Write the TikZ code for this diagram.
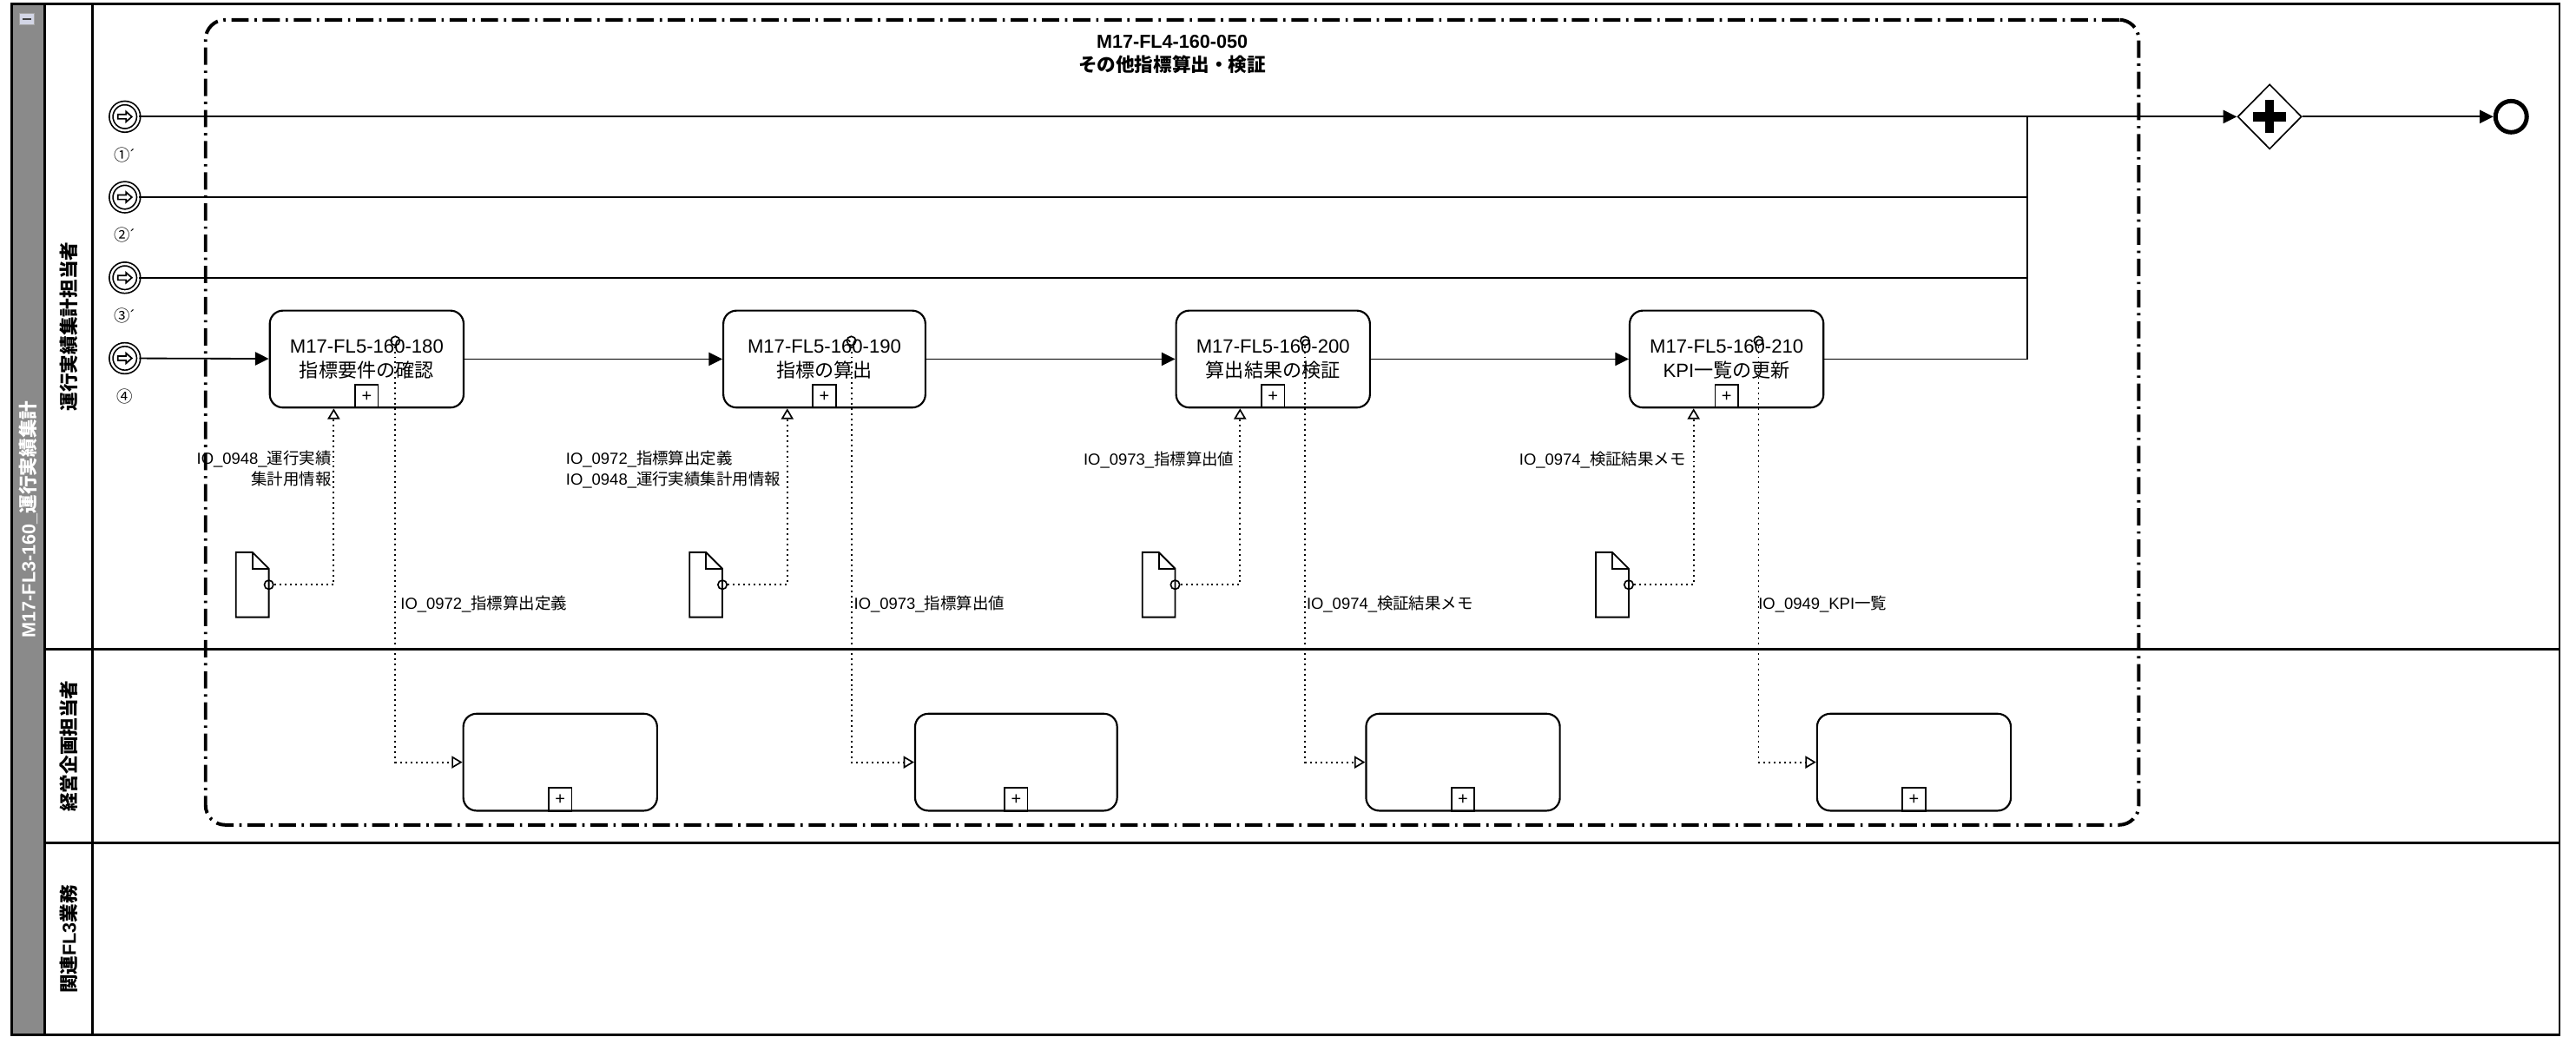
\documentclass[tikz,border=0pt]{standalone}
\usepackage{fontspec}
\setmainfont{Liberation Sans}
\newfontfamily\jp{Noto Sans CJK JP}
\usetikzlibrary{shapes.geometric,arrows.meta,positioning}
\definecolor{poolgray}{HTML}{8A8A8A}
\definecolor{iconfill}{HTML}{D3D6E6}
\newcommand{\taskfont}{\fontsize{6.65}{8.4}\selectfont}
\newcommand{\iofont}{\fontsize{5.55}{7.2}\selectfont}
\newcommand{\headfont}{\fontsize{6.5}{8.1}\selectfont\bfseries}
\tikzstyle{poolline} = [line width=0.8pt]
\tikzstyle{task} = [rectangle, draw, line width=0.65pt, rounded corners=0.16cm,
    minimum width=2.36cm, minimum height=1.18cm, align=center, font=\taskfont, inner sep=0pt]
\tikzstyle{marker} = [rectangle, draw, line width=0.5pt, minimum size=0.28cm, inner sep=0pt,
    anchor=south, font=\fontsize{6}{6}\selectfont]
\tikzstyle{startev} = [circle, draw, line width=0.51pt, double, double distance=0.74pt,
    minimum size=0.334cm, inner sep=0pt, path picture={
      \draw[line width=0.5pt] ([shift={(-0.085cm,0.027cm)}]path picture bounding box.center)
        -- ++(0.1cm,0) -- ++(0,0.035cm) -- ++(0.07cm,-0.062cm) -- ++(-0.07cm,-0.062cm)
        -- ++(0,0.035cm) -- ++(-0.1cm,0) -- cycle;}]
\tikzstyle{endev} = [circle, draw, line width=1.5pt, minimum size=0.38cm, inner sep=0pt]
\tikzstyle{gateway} = [diamond, draw, line width=0.5pt, minimum width=0.78cm, minimum height=0.79cm,
    inner sep=0pt, path picture={
      \draw[line width=0.11cm] ([xshift=-0.2cm]path picture bounding box.center) -- ([xshift=0.2cm]path picture bounding box.center);
      \draw[line width=0.11cm] ([yshift=-0.2cm]path picture bounding box.center) -- ([yshift=0.2cm]path picture bounding box.center);}]
\tikzstyle{docnode} = [rectangle, minimum width=0.4cm, minimum height=0.79cm, inner sep=0pt, outer sep=0pt]
\tikzstyle{docline} = [line width=0.55pt, line join=miter]
\tikzstyle{assoccirc} = [circle, draw, line width=0.5pt, minimum size=0.11cm, inner sep=0pt]
\tikzstyle{assocline} = [line width=0.55pt, dash pattern=on 0.6pt off 1.2pt]
\tikzstyle{assocarrow} = [assocline, -{Triangle[open, length=0.13cm, width=0.15cm, line width=0.5pt]}]
\tikzstyle{flow} = [line width=0.55pt]
\tikzstyle{seqarrow} = [flow, -{Triangle[length=0.166cm, width=0.16cm]}]
\tikzstyle{grp} = [rectangle, draw, line width=1.2pt, rounded corners=0.24cm,
    dash pattern=on 6pt off 2pt on 0.8pt off 2pt, minimum width=23.54cm, minimum height=9.8cm, inner sep=0pt]
\tikzstyle{grptitle} = [font=\headfont, align=center, inner sep=0pt]
\tikzstyle{lanehead} = [rotate=90, font=\headfont, inner sep=0pt]
\tikzstyle{poolhead} = [rotate=90, font=\headfont, text=white, inner sep=0pt]
\tikzstyle{collapsebox} = [rectangle, fill=iconfill, draw=gray!70, line width=0.3pt,
    minimum width=0.17cm, minimum height=0.14cm, inner sep=0pt, path picture={
      \draw[line width=0.6pt, black!75] ([xshift=-0.055cm]path picture bounding box.center) -- ([xshift=0.055cm]path picture bounding box.center);}]
\tikzstyle{evlabel} = [font=\iofont, inner sep=0pt]
\tikzstyle{iolabel} = [font=\iofont, inner sep=0pt]

\begin{document}
\begin{tikzpicture}[x=0.02cm, y=-0.02cm]
\useasboundingbox (0,0) rectangle (1568,631);

% pool and lanes
\fill[poolgray] (7,2.4) rectangle (27.3,629.8);
\draw[poolline] (7,2.4) rectangle (1558,629.8);
\draw[poolline] (27.3,2.4) -- (27.3,629.8);
\draw[poolline] (56.4,2.4) -- (56.4,629.8);
\draw[poolline] (27.3,395) -- (1558,395);
\draw[poolline] (27.3,513) -- (1558,513);
\node[collapsebox] (cb) at (16.4,11.6) {};
\node[poolhead] (pool) at (17.3,316) {M17-FL3-160\_{\jp 運行実績集計}};
\node[lanehead] (lane1) at (41.8,198.7) {\jp 運行実績集計担当者};
\node[lanehead] (lane2) at (41.8,454) {\jp 経営企画担当者};
\node[lanehead] (lane3) at (41.8,571.4) {{\jp 関連}FL3{\jp 業務}};

% group
\node[grp] (grp) at (713.5,257) {};
\node[grptitle] (gtitle) at (713.5,33.1) {M17-FL4-160-050\\{\jp その他指標算出・検証}};

% start events
\node[startev] (ev1) at (76,71) {};
\node[startev] (ev2) at (76,120) {};
\node[startev] (ev3) at (76,169) {};
\node[startev] (ev4) at (76,218) {};
\node[evlabel, below=0.19cm of ev1] (lb1) {{\jp ①}´};
\node[evlabel, below=0.19cm of ev2] (lb2) {{\jp ②}´};
\node[evlabel, below=0.19cm of ev3] (lb3) {{\jp ③}´};
\node[evlabel, below=0.19cm of ev4] (lb4) {\jp ④};

% tasks
\node[task] (t1) at (223.2,218.5) {M17-FL5-160-180\\{\jp 指標要件の確認}};
\node[task, minimum width=2.46cm, right=3.14cm of t1] (t2) {M17-FL5-160-190\\{\jp 指標の算出}};
\node[task, right=3.03cm of t2] (t3) {M17-FL5-160-200\\{\jp 算出結果の検証}};
\node[task, right=3.14cm of t3] (t4) {M17-FL5-160-210\\KPI{\jp 一覧の更新}};
\node[marker] (m1) at (t1.south) {+};
\node[marker] (m2) at (t2.south) {+};
\node[marker] (m3) at (t3.south) {+};
\node[marker] (m4) at (t4.south) {+};

% gateway and end
\node[gateway] (gw) at (1381.5,71) {};
\node[endev] (endev) at (1528.5,71) {};
\coordinate (jn) at (1234,71);

% sub processes in lane 2
\node[task] (b1) at (341,463.8) {};
\node[task, minimum width=2.46cm] (b2) at (618.5,463.8) {};
\node[task] (b3) at (890.5,463.8) {};
\node[task] (b4) at (1165,463.8) {};
\node[marker] (n1) at (b1.south) {+};
\node[marker] (n2) at (b2.south) {+};
\node[marker] (n3) at (b3.south) {+};
\node[marker] (n4) at (b4.south) {+};

% data objects
\coordinate (dy) at (0,355.8);
\node[docnode, anchor=east] (d1) at (t1.west |- dy) {};
\node[docnode, anchor=east] (d2) at (t2.west |- dy) {};
\node[docnode, anchor=east] (d3) at (t3.west |- dy) {};
\node[docnode, anchor=east] (d4) at (t4.west |- dy) {};
\foreach \d in {d1,d2,d3,d4} {
  \draw[docline] (\d.south west) -- (\d.north west) -- ([xshift=-0.2cm]\d.north east)
    -- ([yshift=-0.2cm]\d.north east) -- (\d.south east) -- cycle;
  \draw[docline] ([xshift=-0.2cm]\d.north east) |- ([yshift=-0.2cm]\d.north east);
}
\node[assoccirc] (c1) at (d1.east) {};
\node[assoccirc] (c2) at (d2.east) {};
\node[assoccirc] (c3) at (d3.east) {};
\node[assoccirc] (c4) at (d4.east) {};
\node[assoccirc] (o1) at ([xshift=1.54cm,yshift=-0.38cm]t1.north west) {};
\node[assoccirc] (o2) at ([xshift=1.57cm,yshift=-0.38cm]t2.north west) {};
\node[assoccirc] (o3) at ([xshift=1.58cm,yshift=-0.38cm]t3.north west) {};
\node[assoccirc] (o4) at ([xshift=1.58cm,yshift=-0.38cm]t4.north west) {};

% sequence flows
\draw[seqarrow] (ev1) -- (gw);
\draw[flow] (ev2) -- (ev2 -| jn);
\draw[flow] (ev3) -- (ev3 -| jn);
\draw[seqarrow] (ev4) -- (t1);
\draw[seqarrow] (t1) -- (t2);
\draw[seqarrow] (t2) -- (t3);
\draw[seqarrow] (t3) -- (t4);
\draw[flow] (t4) -| (jn);
\draw[seqarrow] (gw) -- (endev);

% data associations
\draw[assocarrow] (c1) -| ([xshift=0.79cm]t1.south west);
\draw[assocarrow] (c2) -| ([xshift=0.79cm]t2.south west);
\draw[assocarrow] (c3) -| ([xshift=0.79cm]t3.south west);
\draw[assocarrow] (c4) -| ([xshift=0.79cm]t4.south west);
\draw[assocarrow] (o1) |- (b1);
\draw[assocarrow] (o2) |- (b2);
\draw[assocarrow] (o3) |- (b3);
\draw[assocarrow] (o4) |- (b4);

% labels
\node[iolabel, anchor=east, align=right] (i1) at (202,285.3) {IO\_0948\_{\jp 運行実績}\\{\jp 集計用情報}};
\node[iolabel, anchor=east, align=left] (i2) at (475.5,285.8) {IO\_0972\_{\jp 指標算出定義}\\IO\_0948\_{\jp 運行実績集計用情報}};
\node[iolabel, anchor=east] (i3) at (751.5,279.8) {IO\_0973\_{\jp 指標算出値}};
\node[iolabel, anchor=east] (i4) at (1026.5,279.8) {IO\_0974\_{\jp 検証結果メモ}};
\node[iolabel, anchor=west] (p1) at (243.5,367.7) {IO\_0972\_{\jp 指標算出定義}};
\node[iolabel, anchor=west] (p2) at (519.5,367.7) {IO\_0973\_{\jp 指標算出値}};
\node[iolabel, anchor=west] (p3) at (795,367.7) {IO\_0974\_{\jp 検証結果メモ}};
\node[iolabel, anchor=west] (p4) at (1070,367.7) {IO\_0949\_KPI{\jp 一覧}};

\end{tikzpicture}
\end{document}
